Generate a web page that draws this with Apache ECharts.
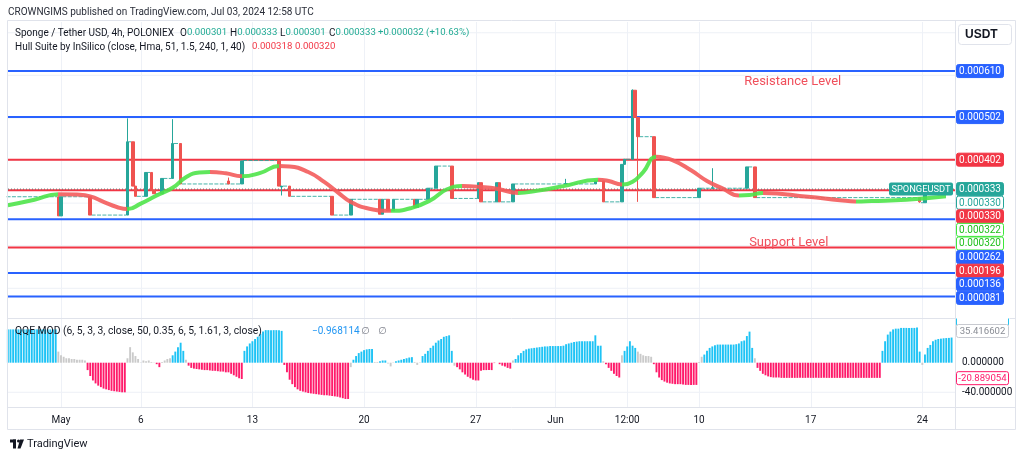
<!DOCTYPE html>
<html><head><meta charset="utf-8">
<script src="https://cdn.jsdelivr.net/npm/echarts@6/dist/echarts.min.js"></script>
<style>html,body{margin:0;padding:0;background:#fff}#c{width:1024px;height:458px}</style>
</head><body><div id="c"></div>
<script>
// ================= DATA =================
const headerText = 'CROWNGIMS published on TradingView.com, Jul 03, 2024 12:58 UTC';
const symbolTitle = 'Sponge / Tether USD, 4h, POLONIEX';
const ohlcKeys = ['O','H','L','C'];
const ohlcVals = ['0.000301','0.000333','0.000301','0.000333'];
const changeText = '+0.000032 (+10.63%)';
const hullTitle = 'Hull Suite by InSilico (close, Hma, 51, 1.5, 240, 1, 40)';
const hullLegendVals = ['0.000318','0.000320'];
const qqeTitle = 'QQE MOD (6, 5, 3, 3, close, 50, 0.35, 6, 5, 1.61, 3, close)';
const qqeLegendVal = '\u22120.968114';
const currencyText = 'USDT';
const symbolTag = 'SPONGEUSDT';

const tickTimes = ['2024-05-01 00:00','2024-05-06 00:00','2024-05-13 00:00','2024-05-20 00:00','2024-05-27 00:00','2024-06-01 00:00','2024-06-05 12:00','2024-06-10 00:00','2024-06-17 00:00','2024-06-24 00:00'];
const tickLabels = ['May','6','13','20','27','Jun','12:00','10','17','24'];

const levelValues = [0.000610,0.000502,0.000402,0.000330,0.000262,0.000196,0.000136,0.000081];
const levelKinds  = ['blue','blue','red','red','blue','red','blue','blue'];
const lastPrice = 0.000333;
const priceGridValues = [0.0001,0.0002,0.0003,0.0004,0.0005,0.0006,0.0007];

const tagValues = [0.000610,0.000502,0.000402,0.000333,0.000330,0.000330,0.000322,0.000320,0.000262,0.000196,0.000136,0.000081];
const tagKinds  = ['blue','blue','red','last','prev','red','hull','hull','blue','red','blue','blue'];

const notes = [
  {text:'Resistance Level', time:'2024-06-15 21:00', price:0.000584},
  {text:'Support Level',    time:'2024-06-15 15:00', price:0.000206}
];

// candles: [time, open, close, low, high]
const candles = [
 ['2024-04-30 20:00',0.000315,0.000270,0.000270,0.000315],
 ['2024-05-01 00:00',0.000270,0.000315,0.000270,0.000315],
 ['2024-05-02 20:00',0.000315,0.000272,0.000272,0.000315],
 ['2024-05-05 04:00',0.000272,0.000444,0.000272,0.000499],
 ['2024-05-05 12:00',0.000444,0.000340,0.000340,0.000444],
 ['2024-05-05 16:00',0.000340,0.000316,0.000316,0.000340],
 ['2024-05-06 08:00',0.000316,0.000372,0.000316,0.000372],
 ['2024-05-06 16:00',0.000372,0.000330,0.000330,0.000372],
 ['2024-05-06 20:00',0.000330,0.000322,0.000322,0.000330],
 ['2024-05-07 08:00',0.000322,0.000358,0.000322,0.000358],
 ['2024-05-08 00:00',0.000358,0.000440,0.000358,0.000497],
 ['2024-05-08 12:00',0.000440,0.000345,0.000345,0.000440],
 ['2024-05-11 12:00',0.000352,0.000345,0.000345,0.000360],
 ['2024-05-12 08:00',0.000345,0.000399,0.000345,0.000399],
 ['2024-05-14 16:00',0.000400,0.000340,0.000340,0.000400],
 ['2024-05-14 20:00',0.000338,0.000340,0.000318,0.000340],
 ['2024-05-15 08:00',0.000340,0.000316,0.000316,0.000340],
 ['2024-05-18 00:00',0.000316,0.000272,0.000272,0.000316],
 ['2024-05-19 04:00',0.000272,0.000309,0.000272,0.000309],
 ['2024-05-21 00:00',0.000309,0.000274,0.000274,0.000309],
 ['2024-05-21 04:00',0.000274,0.000309,0.000274,0.000309],
 ['2024-05-21 12:00',0.000309,0.000282,0.000282,0.000309],
 ['2024-05-21 20:00',0.000282,0.000309,0.000282,0.000309],
 ['2024-05-23 04:00',0.000309,0.000290,0.000290,0.000309],
 ['2024-05-23 08:00',0.000290,0.000309,0.000290,0.000309],
 ['2024-05-24 00:00',0.000309,0.000335,0.000309,0.000335],
 ['2024-05-24 12:00',0.000335,0.000387,0.000335,0.000387],
 ['2024-05-25 12:00',0.000387,0.000311,0.000311,0.000387],
 ['2024-05-27 04:00',0.000311,0.000348,0.000311,0.000348],
 ['2024-05-27 08:00',0.000348,0.000303,0.000303,0.000348],
 ['2024-05-28 08:00',0.000303,0.000348,0.000303,0.000348],
 ['2024-05-28 12:00',0.000348,0.000303,0.000303,0.000348],
 ['2024-05-29 08:00',0.000303,0.000345,0.000303,0.000345],
 ['2024-06-01 16:00',0.000345,0.000346,0.000345,0.000357],
 ['2024-06-03 12:00',0.000345,0.000352,0.000345,0.000352],
 ['2024-06-04 00:00',0.000352,0.000303,0.000303,0.000352],
 ['2024-06-05 04:00',0.000303,0.000391,0.000303,0.000391],
 ['2024-06-05 08:00',0.000391,0.000403,0.000391,0.000403],
 ['2024-06-05 20:00',0.000403,0.000565,0.000403,0.000567],
 ['2024-06-06 00:00',0.000565,0.000501,0.000501,0.000565],
 ['2024-06-06 04:00',0.000501,0.000456,0.000303,0.000501],
 ['2024-06-07 04:00',0.000456,0.000313,0.000313,0.000456],
 ['2024-06-10 00:00',0.000313,0.000335,0.000313,0.000335],
 ['2024-06-10 20:00',0.000335,0.000336,0.000335,0.000382],
 ['2024-06-13 00:00',0.000335,0.000385,0.000335,0.000385],
 ['2024-06-13 12:00',0.000385,0.000313,0.000313,0.000385],
 ['2024-06-23 20:00',0.000313,0.000303,0.000301,0.000313],
 ['2024-06-24 04:00',0.000301,0.000333,0.000301,0.000333]
];

// flat (no-move) candle runs: [first bar, last bar, price]
const flatRuns = [
 ['2024-04-27 16:00','2024-04-30 16:00',0.000315],
 ['2024-05-01 04:00','2024-05-02 16:00',0.000315],
 ['2024-05-03 00:00','2024-05-05 00:00',0.000272],
 ['2024-05-05 08:00','2024-05-05 08:00',0.000444],
 ['2024-05-05 20:00','2024-05-06 04:00',0.000316],
 ['2024-05-06 12:00','2024-05-06 12:00',0.000372],
 ['2024-05-07 00:00','2024-05-07 04:00',0.000322],
 ['2024-05-07 12:00','2024-05-07 20:00',0.000358],
 ['2024-05-08 04:00','2024-05-08 08:00',0.000440],
 ['2024-05-08 16:00','2024-05-12 04:00',0.000345],
 ['2024-05-12 12:00','2024-05-14 12:00',0.000400],
 ['2024-05-15 00:00','2024-05-15 04:00',0.000340],
 ['2024-05-15 12:00','2024-05-17 20:00',0.000316],
 ['2024-05-18 04:00','2024-05-19 00:00',0.000272],
 ['2024-05-19 08:00','2024-05-20 20:00',0.000309],
 ['2024-05-21 08:00','2024-05-21 08:00',0.000309],
 ['2024-05-21 16:00','2024-05-21 16:00',0.000282],
 ['2024-05-22 00:00','2024-05-23 00:00',0.000309],
 ['2024-05-23 12:00','2024-05-23 20:00',0.000309],
 ['2024-05-24 04:00','2024-05-24 08:00',0.000335],
 ['2024-05-24 16:00','2024-05-25 08:00',0.000387],
 ['2024-05-25 16:00','2024-05-27 00:00',0.000311],
 ['2024-05-27 12:00','2024-05-28 04:00',0.000303],
 ['2024-05-28 16:00','2024-05-29 04:00',0.000303],
 ['2024-05-29 12:00','2024-06-03 08:00',0.000345],
 ['2024-06-03 16:00','2024-06-03 20:00',0.000352],
 ['2024-06-04 04:00','2024-06-05 00:00',0.000303],
 ['2024-06-05 12:00','2024-06-05 16:00',0.000403],
 ['2024-06-06 08:00','2024-06-07 00:00',0.000456],
 ['2024-06-07 08:00','2024-06-09 20:00',0.000313],
 ['2024-06-10 04:00','2024-06-12 20:00',0.000335],
 ['2024-06-13 04:00','2024-06-13 08:00',0.000385],
 ['2024-06-13 16:00','2024-06-23 16:00',0.000313],
 ['2024-06-24 00:00','2024-06-24 00:00',0.000301],
 ['2024-06-24 08:00','2024-06-25 20:00',0.000333]
];

// Hull MA: [time, value, trend of the following stretch]
const hullPoints = [
 ['2024-04-27 16:00',0.000295,'up'],['2024-04-29 08:00',0.000308,'up'],
 ['2024-04-30 20:00',0.000321,'dn'],['2024-05-02 00:00',0.000320,'dn'],['2024-05-02 20:00',0.000316,'dn'],
 ['2024-05-03 16:00',0.000303,'dn'],['2024-05-04 12:00',0.000291,'dn'],
 ['2024-05-05 04:00',0.000286,'up'],['2024-05-06 00:00',0.000299,'up'],['2024-05-07 00:00',0.000318,'up'],
 ['2024-05-08 00:00',0.000336,'up'],['2024-05-08 20:00',0.000361,'up'],['2024-05-09 16:00',0.000372,'up'],
 ['2024-05-10 08:00',0.000373,'dn'],['2024-05-11 08:00',0.000370,'dn'],
 ['2024-05-12 08:00',0.000363,'up'],['2024-05-13 12:00',0.000371,'up'],
 ['2024-05-14 16:00',0.000387,'dn'],['2024-05-15 08:00',0.000386,'dn'],['2024-05-16 12:00',0.000373,'dn'],
 ['2024-05-17 12:00',0.000350,'dn'],['2024-05-18 08:00',0.000326,'dn'],['2024-05-19 04:00',0.000303,'dn'],
 ['2024-05-20 08:00',0.000287,'dn'],
 ['2024-05-21 16:00',0.000282,'up'],['2024-05-23 00:00',0.000289,'up'],['2024-05-24 04:00',0.000307,'up'],
 ['2024-05-25 04:00',0.000332,'up'],
 ['2024-05-26 04:00',0.000340,'dn'],['2024-05-27 08:00',0.000338,'dn'],['2024-05-28 08:00',0.000334,'dn'],
 ['2024-05-29 16:00',0.000324,'up'],['2024-05-30 20:00',0.000329,'up'],['2024-06-01 12:00',0.000340,'up'],
 ['2024-06-03 16:00',0.000355,'dn'],['2024-06-04 08:00',0.000352,'dn'],
 ['2024-06-05 04:00',0.000344,'up'],['2024-06-05 20:00',0.000350,'up'],['2024-06-06 12:00',0.000373,'up'],
 ['2024-06-07 08:00',0.000409,'dn'],['2024-06-08 08:00',0.000401,'dn'],['2024-06-09 12:00',0.000377,'dn'],
 ['2024-06-10 12:00',0.000352,'dn'],['2024-06-11 12:00',0.000334,'dn'],
 ['2024-06-12 12:00',0.000318,'up'],['2024-06-13 04:00',0.000319,'up'],
 ['2024-06-14 00:00',0.000324,'dn'],['2024-06-16 20:00',0.000315,'dn'],['2024-06-18 20:00',0.000307,'dn'],
 ['2024-06-19 20:00',0.000304,'up'],['2024-06-20 20:00',0.000305,'up'],['2024-06-23 00:00',0.000308,'up'],
 ['2024-06-25 12:00',0.000316,'up']
];

// QQE MOD histogram, one value per 4h bar starting at qqeStart
const qqeStart = '2024-04-27 16:00';
const qqeHist = [
 45,45,45,45,45,45,45,45,45,45,45,45,45,45,45,45,45,45,45,
 15,10,8,6,6,5,5,4,4,4,3,
 -10,-18,-24,-28,-31,-33,-35,-36,-37,-38,-38.5,-39,-39.5,-40,-40,
 6,21,14,9,5,
 0.5,3,2,3,1,0.3,
 -2,-6,
 1,3,5,6,
 10,15,21,27,16,
 4,
 -4,-7,-8,-8.5,-9,-9.5,-10,-10,-10.5,-11,-11,-11.5,-12,-12,-13,-13,-15,-17,-19,-21,-22,
 16,22,26,29,32,35,39,42,44,44,44,44,44,44,43,
 -3,-13,-23,-29,-33,-36,-38,-39,-40,-41,-41.5,-42,-42.5,-43,-43.5,-44,-44,-44.5,-45,-45.5,-46,-47,-48,-49,-49,
 -6,
 4,9,13,15,17,18,18.5,18.5,
 1,1,
 2,3,3,
 -1,-5,0.5,
 2,3,4,5,6,7,7.5,
 1,-3,0.5,
 9,12,16,20,23,27,30,32,35,36,37,16,
 -4,-6,
 -9,-13,-16,-19,-21,-23,-24,-24,-11,-10,-10,-10,-10,
 -0.5,0,-2,
 -4,-5,-7,-8,
 3,
 5,10,13,16,18,19,19.5,20,20.5,21,21.5,22,22,22.5,22.5,22.5,22.5,22.5,23,25,26,27,28,28.5,29,29,29,29,29,29,37,23,23,
 2,
 -2,-7,-11,-15,-18,-20,
 10,
 16,22,29,23,20,
 15,12,10,9,9,8,
 -2,-13,-20,-23.5,-25.5,-27,-28,-28.5,-29,-29,-29,-29.5,-30,-30,-30,-30,-30,
 1,8,
 11,16,20,22,23.5,24.5,24.5,24.5,24.5,24.5,24.5,24.5,25,26,29,30,36,42,20,
 6,
 -7,-11,-15,-17,-18.5,-19.5,
 -20,-20,-20,-20.5,-20.5,-20.5,-20.5,-20.5,-20.5,-20.5,
 -20.5,-20.5,-20.5,-20.5,-20.5,-20.5,-20.5,-20.5,-20.5,-20.5,
 -20.5,-20.5,-20.5,-20.5,-20.5,-20.5,-20.5,-20.5,-20.5,-20.5,
 -20.5,-20.5,-20.5,-20.5,-20.5,-20.5,-20.5,-20.5,-20.5,-20.5,
 -20.5,
 16,29,38,42,45,46,46,47,47,47,47,47,47,47.5,15,
 -3,
 11,20,24,29,31,32,32.5,33,33.3,33.5,34
];
// colour state of each histogram bar, run-length: b = above, r = below, g = neutral
const qqeStateRuns = [['b',19],['g',11],['r',15],['g',5],['g',6],['r',2],['g',4],['b',5],['g',1],['r',21],['b',15],['r',25],['g',1],['b',8],['g',2],['b',3],['g',3],['b',7],['g',3],['b',12],['g',1],['r',1],['r',13],['r',3],['r',4],['g',1],['b',33],['g',1],['r',6],['g',1],['b',5],['g',6],['r',17],['g',2],['b',19],['g',1],['r',47],['b',15],['g',1],['b',11]];
const qqeAxisValues = [0,-40];
const qqeGridValues = [-40];
const qqeTagValues = [35.416602,-20.889054];
const qqeTagKinds = ['gray','pink'];

// ================= STYLE / LAYOUT =================
const C = {
  up:'#26a69a', down:'#ef5350', blue:'#2962ff', red:'#f23645',
  hullUp:'#4ee44a', hullDn:'#f35b5b',
  qb:'#1ec3f5', qr:'#ff1a6a', qg:'#cacaca',
  grid:'#eef1f7', text:'#131722', border:'#e0e3eb', sub:'#787b86'
};
const FONT = 'Roboto, "DejaVu Sans", sans-serif';
const PANE = {left:8, right:955, top:22, mid:318.5, subTop:319, bottom:407};
const X_MIN = '2024-04-27 16:15', X_MAX = '2024-06-26 01:10';

const ts = s => Date.UTC(+s.slice(0,4), +s.slice(5,7) - 1, +s.slice(8,10), +s.slice(11,13), +s.slice(14,16));
const H4 = 4 * 3600 * 1000;
const xMin = ts(X_MIN), xMax = ts(X_MAX);

const tickTs = tickTimes.map(ts);
const qqeStates = [];
qqeStateRuns.forEach(([s, n]) => { for (let i = 0; i < n; i++) qqeStates.push(s); });
const qqeColor = {b:C.qb, r:C.qr, g:C.qg};
const t0 = ts(qqeStart);
const histData = qqeHist.map((v, i) => ({value:[t0 + i * H4, v], itemStyle:{color:qqeColor[qqeStates[i]] || C.qg}}));

const candleData = candles.map(c => [ts(c[0]), c[1], c[2], c[3], c[4]]);
const flatData = flatRuns.map(f => [ts(f[0]), ts(f[1]), f[2]]);
const hullData = hullPoints.map(p => [ts(p[0]), p[1]]);
const hullPieces = [];
for (let i = 0; i < hullPoints.length - 1; i++) {
  hullPieces.push({gte: ts(hullPoints[i][0]), lt: ts(hullPoints[i+1][0]) + (i === hullPoints.length - 2 ? 1 : 0),
    color: hullPoints[i][2] === 'up' ? C.hullUp : C.hullDn});
}

// horizontal rule series through the axis scale
const hRule = (idx, values, styleFn, z) => ({
  type:'custom', xAxisIndex:idx, yAxisIndex:idx, z, silent:true,
  data: values.map((v, i) => [xMin, v, i]), encode:{x:0, y:1},
  renderItem:(p, api) => {
    const y = api.coord([xMin, api.value(1)])[1];
    const cs = p.coordSys;
    return {type:'line', shape:{x1:cs.x, y1:y, x2:cs.x + cs.width, y2:y}, style:styleFn(api.value(2))};
  }
});
const vRule = (idx) => ({
  type:'custom', xAxisIndex:idx, yAxisIndex:idx, z:1, silent:true,
  data: tickTs.map(t => [t, 0]), encode:{x:0, y:1},
  renderItem:(p, api) => {
    const x = Math.round(api.coord([api.value(0), 0])[0]) + 0.5;
    const cs = p.coordSys;
    return {type:'line', shape:{x1:x, y1:cs.y, x2:x, y2:cs.y + cs.height}, style:{stroke:C.grid, lineWidth:1}};
  }
});

const chart = echarts.init(document.getElementById('c'), null, {renderer:'canvas'});

const option = {
  animation:false,
  backgroundColor:'#ffffff',
  grid:[
    {left:PANE.left, width:PANE.right - PANE.left, top:PANE.top, height:PANE.mid - PANE.top},
    {left:PANE.left, width:PANE.right - PANE.left, top:PANE.subTop, height:PANE.bottom - PANE.subTop}
  ],
  xAxis:[
    {type:'value', gridIndex:0, min:xMin, max:xMax, scale:true, axisLine:{show:false}, axisTick:{show:false}, axisLabel:{show:false}, splitLine:{show:false}},
    {type:'value', gridIndex:1, min:xMin, max:xMax, scale:true, axisLine:{show:false}, axisTick:{show:false}, splitLine:{show:false},
      axisLabel:{customValues:tickTs, color:C.text, fontSize:10, fontFamily:FONT, margin:8, hideOverlap:false,
        formatter: v => { const i = tickTs.indexOf(v); return i >= 0 ? tickLabels[i] : ''; }}}
  ],
  yAxis:[
    {type:'value', gridIndex:0, min:0.0000292, max:0.0007252, position:'right', axisLine:{show:false}, axisTick:{show:false}, axisLabel:{show:false}, splitLine:{show:false}},
    {type:'value', gridIndex:1, min:-59.86, max:59.05, position:'right', axisLine:{show:false}, axisTick:{show:false}, splitLine:{show:false},
      axisLabel:{customValues:qqeAxisValues, color:C.text, fontSize:10, fontFamily:FONT, margin:7, align:'left',
        formatter: v => (v < 0 ? '-' : '') + Math.abs(v).toFixed(6)}}
  ],
  visualMap:[{type:'piecewise', show:false, dimension:0, seriesIndex:8, pieces:hullPieces}],
  series:[
    vRule(0),                                                        // 0
    vRule(1),                                                        // 1
    hRule(0, priceGridValues, () => ({stroke:C.grid, lineWidth:1}), 1), // 2
    hRule(1, qqeGridValues, () => ({stroke:C.grid, lineWidth:1}), 1),   // 3
    hRule(0, levelValues, i => ({stroke: levelKinds[i] === 'blue' ? C.blue : C.red, lineWidth:2}), 2), // 4
    hRule(0, [lastPrice], () => ({stroke:'#5f6e6c', lineWidth:1, lineDash:[1,2]}), 2),                   // 5
    { // 6 flat runs of doji bars + notes
      type:'custom', xAxisIndex:0, yAxisIndex:0, z:3, silent:true, data:flatData,
      encode:{x:[0,1], y:2},
      renderItem:(params, api) => {
        const a = api.coord([api.value(0), api.value(2)]);
        const b = api.coord([api.value(1), api.value(2)]);
        return {type:'line', shape:{x1:a[0]-1.3, y1:a[1], x2:b[0]+1.3, y2:b[1]},
          style:{stroke:C.up, lineWidth:1, lineDash:[4,1.4], opacity:0.85}};
      },
      markPoint:{silent:true, symbol:'circle', symbolSize:0,
        data: notes.map(n => ({coord:[ts(n.time), n.price], value:n.text,
          label:{show:true, formatter:n.text, color:'#f0505c', fontSize:13, fontFamily:FONT, position:'inside'}}))}
    },
    { // 7
      type:'candlestick', xAxisIndex:0, yAxisIndex:0, z:4, silent:true, data:candleData, barWidth:3,
      itemStyle:{color:C.up, color0:C.down, borderColor:C.up, borderColor0:C.down, borderWidth:1}
    },
    { // 8
      type:'line', xAxisIndex:0, yAxisIndex:0, z:5, silent:true, data:hullData, smooth:0.5, symbol:'none',
      lineStyle:{width:4, opacity:0.9}
    },
    { // 9
      type:'bar', xAxisIndex:1, yAxisIndex:1, z:3, silent:true, data:histData, barWidth:1.9
    }
  ]
};
chart.setOption(option);

// ---------- overlay texts / tags ----------
const els = [];
const txt = (x, y, text, o = {}) => els.push({type:'text', x, y, z:50, silent:true,
  style:Object.assign({text, fill:C.text, font:`${o.size||10}px ${FONT}`, align:o.align||'left', verticalAlign:'middle'}, o.style||{})});

// frame
els.push({type:'rect', z:40, silent:true, shape:{x:7.5, y:20.5, width:1008, height:409}, style:{fill:'none', stroke:C.border, lineWidth:1}});
els.push({type:'line', z:40, silent:true, shape:{x1:955.5, y1:20.5, x2:955.5, y2:429.5}, style:{stroke:C.border, lineWidth:1}});
els.push({type:'line', z:40, silent:true, shape:{x1:7.5, y1:318.5, x2:1015.5, y2:318.5}, style:{stroke:C.border, lineWidth:1}});
els.push({type:'line', z:40, silent:true, shape:{x1:7.5, y1:407.5, x2:1015.5, y2:407.5}, style:{stroke:C.border, lineWidth:1}});

// header
txt(8, 12, headerText, {size:10, style:{fill:'#2a2e39'}});
// legend line 1
txt(15, 33, symbolTitle, {size:10});
const ohlcX = [180, 230, 280, 329];
ohlcKeys.forEach((k, i) => {
  els.push({type:'text', x:ohlcX[i], y:33, z:50, silent:true, style:{text:`${k}{v|${ohlcVals[i]}}`,
    font:`10px ${FONT}`, fill:C.text, verticalAlign:'middle', rich:{v:{fill:'#22ab94', font:`9.6px ${FONT}`}}}});
});
txt(378, 33, changeText, {size:9.6, style:{fill:'#22ab94'}});
// legend line 2
txt(15, 47, hullTitle, {size:10});
txt(252, 47, hullLegendVals[0], {size:9.6, style:{fill:'#f23645'}});
txt(295, 47, hullLegendVals[1], {size:9.6, style:{fill:'#f23645'}});
// QQE legend
txt(15, 331, qqeTitle, {size:10.3});
txt(312, 331, qqeLegendVal, {size:10, style:{fill:'#2196f3'}});
txt(361, 331, '\u2205', {size:10, style:{fill:C.sub}});
txt(378, 331, '\u2205', {size:10, style:{fill:C.sub}});

// currency box
els.push({type:'rect', z:45, silent:true, shape:{x:958.5, y:24.5, width:53, height:20, r:3}, style:{fill:'#fff', stroke:C.border, lineWidth:1}});
txt(965, 35, currencyText, {size:10, style:{fill:C.text, fontWeight:'bold'}});

// price tags with collision stacking
const tagStyle = {
  blue:{fill:C.blue, stroke:C.blue, text:'#fff'},
  red:{fill:C.red, stroke:C.red, text:'#fff'},
  last:{fill:C.up, stroke:C.up, text:'#fff'},
  prev:{fill:'#fff', stroke:C.up, text:C.up},
  hull:{fill:'#fff', stroke:'#3ee83a', text:'#1fbf1c'},
  gray:{fill:'#fff', stroke:'#c8cad0', text:'#8a8d95'},
  pink:{fill:'#fff', stroke:C.qr, text:C.qr}
};
const drawTag = (y, label, kind, w = 47, fs = 10) => {
  const st = tagStyle[kind];
  els.push({type:'rect', z:60, silent:true, shape:{x:956.5, y:y-6.5, width:w, height:13, r:2}, style:{fill:st.fill, stroke:st.stroke, lineWidth:1}});
  els.push({type:'text', z:61, silent:true, x:956.5 + w / 2, y:y+0.5, style:{text:label, fill:st.text, font:`${fs}px ${FONT}`, align:'center', verticalAlign:'middle'}});
};
let prevY = -1e9;
tagValues.forEach((v, i) => {
  let y = chart.convertToPixel({yAxisIndex:0}, v);
  y = Math.max(y, prevY + 13.6);
  prevY = y;
  drawTag(y, v.toFixed(6), tagKinds[i]);
});
const yLast = chart.convertToPixel({yAxisIndex:0}, lastPrice);
els.push({type:'rect', z:55, silent:true, shape:{x:889, y:yLast-6.5, width:64, height:13, r:2}, style:{fill:C.up}});
els.push({type:'text', z:56, silent:true, x:921, y:yLast+0.5, style:{text:symbolTag, fill:'#fff', font:`9.3px ${FONT}`, align:'center', verticalAlign:'middle'}});

// indicator tags
els.push({type:'rect', z:58, silent:true, shape:{x:956.5, y:314, width:52, height:12, r:2}, style:{fill:'#fff', stroke:'#22c3f0', lineWidth:1}});
els.push({type:'rect', z:59, silent:true, shape:{x:956, y:303.5, width:54, height:15}, style:{fill:'#fff'}});
qqeTagValues.forEach((v, i) => {
  let y = chart.convertToPixel({yAxisIndex:1}, v);
  if (i === 0) y = Math.min(y, 331);
  drawTag(y, (v < 0 ? '-' : '') + Math.abs(v).toFixed(6), qqeTagKinds[i], 52, 9.6);
});

// TradingView mark
els.push({type:'rect', z:50, silent:true, shape:{x:10, y:439.5, width:6, height:3}, style:{fill:C.text}});
els.push({type:'rect', z:50, silent:true, shape:{x:13, y:439.5, width:3, height:9}, style:{fill:C.text}});
els.push({type:'circle', z:50, silent:true, shape:{cx:18.5, cy:441, r:1.5}, style:{fill:C.text}});
els.push({type:'polygon', z:50, silent:true, shape:{points:[[20,439.5],[24,439.5],[20.5,448.5],[17.5,448.5]]}, style:{fill:C.text}});
txt(27, 444, 'TradingView', {size:11, style:{fill:C.text}});

chart.setOption({graphic:{elements:els}});
</script>
</body></html>
